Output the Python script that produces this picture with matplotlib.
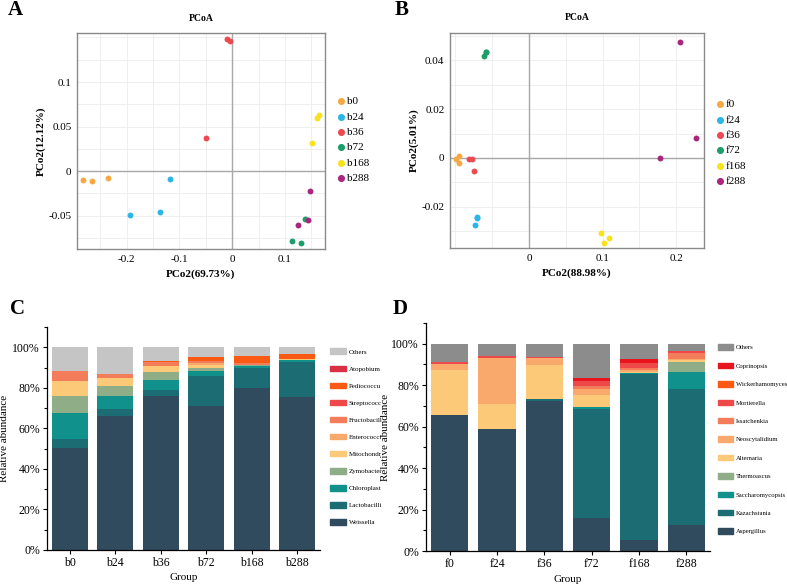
import numpy as np
import matplotlib
matplotlib.use('Agg')
import matplotlib.pyplot as plt
from matplotlib.patches import Patch
from matplotlib.ticker import MultipleLocator, FuncFormatter, FixedLocator

plt.rcParams['font.family'] = 'Liberation Serif'

# ---- PCoA data (panel A, bacteria) ----
groupsA = ['b0', 'b24', 'b36', 'b72', 'b168', 'b288']
pcoA_x = [[-0.282, -0.266, -0.235],
          [-0.117, -0.136, -0.194],
          [-0.009, -0.004, -0.049],
          [0.114, 0.130, 0.139],
          [0.161, 0.165, 0.151],
          [0.147, 0.144, 0.125]]
pcoA_y = [[-0.0097, -0.0105, -0.0079],
          [-0.009, -0.046, -0.0487],
          [0.1483, 0.1464, 0.0367],
          [-0.0779, -0.0805, -0.0532],
          [0.0599, 0.0633, 0.0315],
          [-0.0217, -0.0547, -0.0603]]

# ---- PCoA data (panel B, fungi) ----
groupsB = ['f0', 'f24', 'f36', 'f72', 'f168', 'f288']
pcoB_x = [[-0.0991, -0.0946, -0.0955],
          [-0.0701, -0.0733, -0.0708],
          [-0.0819, -0.0769, -0.0747],
          [-0.0588, -0.0583, -0.0615],
          [0.0973, 0.1086, 0.1014],
          [0.205, 0.2267, 0.1778]]
pcoB_y = [[-0.0005, 0.0007, -0.002],
          [-0.0246, -0.0273, -0.0244],
          [-0.0005, -0.0005, -0.0052],
          [0.0434, 0.0436, 0.0416],
          [-0.0309, -0.0326, -0.0347],
          [0.0475, 0.0081, 0.0]]
group_colors = ['#F5A843', '#2BB6E6', '#EA4A50', '#1C9E6B', '#F8E21E', '#A9267F']

# ---- bacterial composition (panel C) ----
taxaC = ['Weissella', 'Lactobacilli', 'Chloroplast', 'Zymobacter', 'Mitochondr',
         'Enterococci', 'Fructobacill', 'Streptococc', 'Pediococcu', 'Atopobium', 'Others']
valsC = [[50.5, 65.9, 76.2, 70.8, 79.8, 75.4],
         [4.1, 3.5, 2.8, 14.8, 10.2, 17.4],
         [12.9, 6.5, 5.0, 2.8, 0.7, 0.8],
         [8.7, 4.8, 4.0, 1.6, 0.4, 0.2],
         [7.4, 4.0, 2.8, 1.5, 0.2, 0.6],
         [0.0, 0.0, 0.0, 0.7, 0.2, 0.0],
         [4.5, 2.2, 2.0, 0.9, 0.6, 0.0],
         [0.0, 0.0, 0.0, 0.0, 0.0, 0.0],
         [0.0, 0.0, 0.6, 2.3, 3.8, 2.5],
         [0.0, 0.0, 0.0, 0.0, 0.0, 0.0],
         [11.9, 13.1, 6.6, 4.6, 4.1, 3.1]]
colorsC = ['#2F4B5D', '#1C6C74', '#10918C', '#8FAE88', '#FBC977', '#F9A96B',
           '#F37D5B', '#EE4848', '#FB5A15', '#D93043', '#C5C5C5']

# ---- fungal composition (panel D) ----
taxaD = ['Aspergillus', 'Kazachstania', 'Saccharomycopsis', 'Thermoascus', 'Alternaria',
         'Neoscytalidium', 'Issatchenkia', 'Mortierella', 'Wickerhamomyces', 'Coprinopsis', 'Others']
valsD = [[65.5, 58.7, 72.6, 16.1, 5.2, 12.4],
         [0.0, 0.0, 0.7, 52.5, 80.3, 65.7],
         [0.0, 0.0, 0.0, 1.1, 0.3, 8.2],
         [0.0, 0.0, 0.0, 0.0, 0.0, 4.8],
         [21.6, 12.2, 16.2, 5.6, 0.5, 1.0],
         [3.1, 22.4, 3.6, 2.8, 1.1, 0.5],
         [0.0, 0.0, 0.0, 1.6, 0.8, 2.9],
         [1.2, 0.7, 0.6, 2.4, 2.6, 1.1],
         [0.0, 0.0, 0.0, 0.0, 0.0, 0.0],
         [0.0, 0.0, 0.0, 1.6, 2.0, 0.0],
         [8.6, 6.0, 6.3, 16.3, 7.2, 3.4]]
colorsD = ['#2F4B5D', '#1C6C74', '#10918C', '#8FAE88', '#FBC977', '#F9A96B',
           '#F37D5B', '#EE4848', '#FB5A15', '#E8141E', '#8C8C8C']

W, H = 787, 588
fig = plt.figure(figsize=(W / 100, H / 100), dpi=100)


def box(l, r, t, b):
    return [l / W, 1 - b / H, (r - l) / W, (b - t) / H]


def fmt(v, p):
    return '0' if abs(v) < 1e-9 else ('%g' % round(v, 3))


def pcoa(rect, xs, ys, groups, xlim, ylim, xt, yt, xmin, ymin, xlabel, ylabel, leg_xy):
    ax = fig.add_axes(rect)
    for i, g in enumerate(groups):
        ax.scatter(xs[i], ys[i], s=18, color=group_colors[i], label=g, zorder=3, linewidths=0)
    ax.set_xlim(*xlim)
    ax.set_ylim(*ylim)
    ax.xaxis.set_major_locator(FixedLocator(xt))
    ax.xaxis.set_minor_locator(MultipleLocator(xmin))
    ax.yaxis.set_major_locator(FixedLocator(yt))
    ax.yaxis.set_minor_locator(MultipleLocator(ymin))
    ax.xaxis.set_major_formatter(FuncFormatter(fmt))
    ax.yaxis.set_major_formatter(FuncFormatter(fmt))
    ax.grid(True, which='both', color='#ececec', lw=0.6)
    ax.set_axisbelow(True)
    ax.axhline(0, color='#a8a8a8', lw=1, zorder=1)
    ax.axvline(0, color='#a8a8a8', lw=1, zorder=1)
    for s in ax.spines.values():
        s.set_color('#8a8a8a')
        s.set_linewidth(1)
    ax.tick_params(which='both', length=0, labelsize=8, pad=4)
    ax.set_xlabel(xlabel, fontsize=8, fontweight='bold', labelpad=4)
    ax.set_ylabel(ylabel, fontsize=8, fontweight='bold', labelpad=2)
    ax.set_title('PCoA', fontsize=7, fontweight='bold', pad=9)
    ax.legend(loc='upper left', bbox_to_anchor=leg_xy, bbox_transform=fig.transFigure,
              frameon=False, fontsize=8, handletextpad=0.0, labelspacing=0.5,
              borderpad=0, markerscale=1.2, handlelength=1.0)
    return ax


pcoa(box(77, 325, 33, 249), pcoA_x, pcoA_y, groupsA, (-0.294, 0.176), (-0.0873, 0.155),
     [-0.2, -0.1, 0, 0.1], [-0.05, 0, 0.05, 0.1], 0.05, 0.025,
     'PCo2(69.73%)', 'PCo2(12.12%)', (330 / W, 1 - 91 / H))
pcoa(box(450, 704, 33, 248), pcoB_x, pcoB_y, groupsB, (-0.1072, 0.2376), (-0.0369, 0.0512),
     [0, 0.1, 0.2], [-0.02, 0, 0.02, 0.04], 0.05, 0.01,
     'PCo2(88.98%)', 'PCo2(5.01%)', (709 / W, 1 - 94 / H))


def stacked(rect, vals, taxa, colors, groups, leg_xy, leg_space, leg_fs, ylab_x):
    ax = fig.add_axes(rect)
    x = np.arange(len(groups))
    bottom = np.zeros(len(groups))
    for i, t in enumerate(taxa):
        ax.bar(x, vals[i], bottom=bottom, width=0.79, color=colors[i], label=t, linewidth=0)
        bottom += np.array(vals[i])
    ax.set_xlim(-0.5, 5.5)
    ax.set_ylim(0, 110)
    ax.set_xticks(x)
    ax.set_xticklabels(groups)
    ax.set_yticks([0, 20, 40, 60, 80, 100])
    ax.set_yticklabels(['0%', '20%', '40%', '60%', '80%', '100%'])
    ax.yaxis.set_minor_locator(MultipleLocator(10))
    ax.spines['top'].set_visible(False)
    ax.spines['right'].set_visible(False)
    ax.spines['left'].set_linewidth(0.9)
    ax.spines['bottom'].set_linewidth(0.9)
    ax.tick_params(axis='both', which='major', length=3, width=0.8, labelsize=8.5, pad=2)
    ax.tick_params(axis='y', which='minor', length=2, width=0.8)
    ax.set_xlabel('Group', fontsize=8)
    ax.set_ylabel('Relative abundance', fontsize=8)
    ax.xaxis.set_label_coords(0.5, -0.105)
    ax.yaxis.set_label_coords(ylab_x, 0.5)
    handles = [Patch(color=colors[i]) for i in range(len(taxa))][::-1]
    ax.legend(handles, taxa[::-1], loc='upper left', bbox_to_anchor=leg_xy,
              bbox_transform=fig.transFigure, frameon=False, fontsize=leg_fs,
              handlelength=2.2, handleheight=0.9, handletextpad=0.4,
              labelspacing=leg_space, borderpad=0)
    return ax


stacked(box(47, 320, 327, 550), valsC, taxaC, colorsC, ['b0', 'b24', 'b36', 'b72', 'b168', 'b288'],
        (327 / W, 1 - 345 / H), 1.55, 5, -0.14)
stacked(box(426, 710, 323, 551), valsD, taxaD, colorsD, ['f0', 'f24', 'f36', 'f72', 'f168', 'f288'],
        (715 / W, 1 - 341 / H), 1.85, 4.8, -0.125)

for lab, (px, py) in zip('ABCD', [(8, 0), (395, 0), (10, 299), (393, 299)]):
    fig.text(px / W, 1 - py / H, lab, fontsize=15, fontweight='bold', va='top', ha='left')

fig.savefig('out.png', dpi=100)
